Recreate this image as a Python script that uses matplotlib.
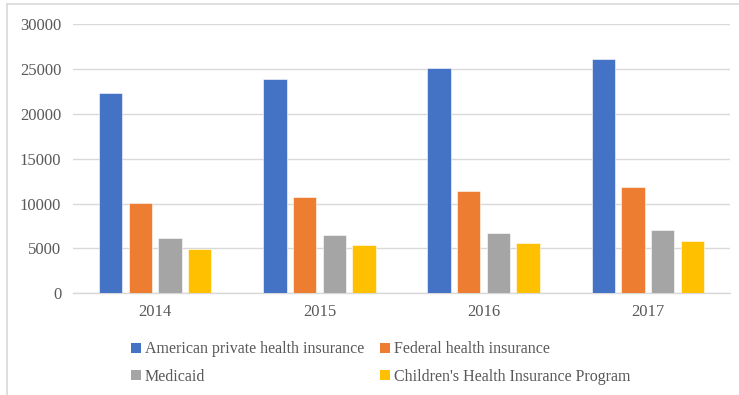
import matplotlib
matplotlib.use("Agg")
import matplotlib.pyplot as plt
from matplotlib.lines import Line2D
from matplotlib.patches import Patch
import numpy as np

years = ["2014", "2015", "2016", "2017"]
series_names = [
    "American private health insurance",
    "Federal health insurance",
    "Medicaid",
    "Children's Health Insurance Program",
]
private_ins = [22280, 23840, 25060, 26070]
federal_ins = [10020, 10690, 11360, 11810]
medicaid = [6160, 6460, 6750, 7050]
chip = [4970, 5410, 5640, 5860]
colors = ["#4472C4", "#ED7D31", "#A5A5A5", "#FFC000"]
y_ticks = [0, 5000, 10000, 15000, 20000, 25000, 30000]

plt.rcParams["font.family"] = ["Liberation Serif", "DejaVu Serif"]
text_color = "#595959"
grid_color = "#D9D9D9"

W, H = 739, 395
fig = plt.figure(figsize=(W / 100, H / 100), dpi=100)
ax = fig.add_axes([73 / W, 1 - 293.3 / H, (730 - 73) / W, (293.3 - 24) / H])

x = np.arange(len(years))
pitch = 0.1806
width = 0.142
all_series = [private_ins, federal_ins, medicaid, chip]
handles = []
for i, (vals, col) in enumerate(zip(all_series, colors)):
    offs = (i - 1.5) * pitch
    ax.bar(x + offs, vals, width=width, color=col, edgecolor="white",
           linewidth=0.4, zorder=3)
    handles.append(Patch(facecolor=col, edgecolor="none"))

ax.set_xlim(-0.5, 3.5)
ax.set_ylim(0, 30000)
ax.set_yticks(y_ticks)
ax.set_yticklabels([str(v) for v in y_ticks])
ax.set_xticks(x)
ax.set_xticklabels(years)
ax.tick_params(axis="both", length=0, labelsize=12, colors=text_color)
ax.tick_params(axis="y", pad=8.5)
ax.tick_params(axis="x", pad=8)
ax.grid(axis="y", color=grid_color, linewidth=1, zorder=0)
for s in ["top", "right", "left"]:
    ax.spines[s].set_visible(False)
ax.spines["bottom"].set_color(grid_color)
ax.spines["bottom"].set_linewidth(1)
ax.set_axisbelow(True)

# legend: two rows, row-wise order
order = [0, 2, 1, 3]
leg = fig.legend([handles[i] for i in order], [series_names[i] for i in order],
                 ncol=2, loc="upper left", bbox_to_anchor=(117 / W, 1 - 327 / H),
                 frameon=False, fontsize=11.5, labelcolor=text_color,
                 handlelength=0.6, handleheight=0.6, handletextpad=0.25,
                 columnspacing=1.0, labelspacing=0.72)

# chart-area border
fig.add_artist(Line2D([7 / W, 7 / W], [0, 1 - 4 / H], color=grid_color, lw=1.2,
                      transform=fig.transFigure))
fig.add_artist(Line2D([7 / W, 1], [1 - 4 / H, 1 - 4 / H], color=grid_color, lw=1.2,
                      transform=fig.transFigure))

fig.savefig("out.png", dpi=100)
